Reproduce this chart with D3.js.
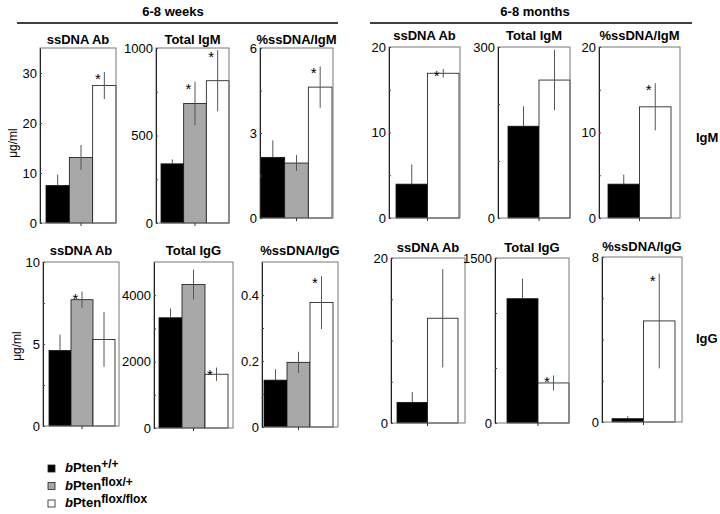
<!DOCTYPE html>
<html><head><meta charset="utf-8">
<script src="https://cdn.jsdelivr.net/npm/d3@7"></script>
<style>body{margin:0;background:#fff}svg{display:block;font-family:"Liberation Sans",Arial,sans-serif}</style>
</head><body><svg id="c" width="720" height="514"></svg>
<script>
// ---- data ----
const groups = ["bPten+/+", "bPten flox/+", "bPten flox/flox"];
const groupSup = ["+/+", "flox/+", "flox/flox"];
const panelTitles = ["ssDNA Ab","Total IgM","%ssDNA/IgM","ssDNA Ab","Total IgM","%ssDNA/IgM",
                     "ssDNA Ab","Total IgG","%ssDNA/IgG","ssDNA Ab","Total IgG","%ssDNA/IgG"];
const ageHeaders = ["6-8 weeks", "6-8 months"];
const isotypeLabels = ["IgM", "IgG"];
const unitLabel = "μg/ml";
// which genotype groups appear in each panel
const panelGroups = [[0,1,2],[0,1,2],[0,1,2],[0,2],[0,2],[0,2],[0,1,2],[0,1,2],[0,1,2],[0,2],[0,2],[0,2]];
// means
const wIgM_ssDNA = [7.5, 13.1, 27.5];
const wIgM_total = [338, 683, 813];
const wIgM_pct   = [2.14, 1.94, 4.62];
const mIgM_ssDNA = [3.96, 16.93];
const mIgM_total = [161, 242];
const mIgM_pct   = [3.96, 13.0];
const wIgG_ssDNA = [4.6, 7.7, 5.28];
const wIgG_total = [3320, 4320, 1620];
const wIgG_pct   = [0.142, 0.196, 0.377];
const mIgG_ssDNA = [2.5, 12.7];
const mIgG_total = [1130, 364];
const mIgG_pct   = [0.16, 4.9];
// errors
const wIgM_ssDNA_err = [2.2, 2.5, 2.7];
const wIgM_total_err = [25, 125, 175];
const wIgM_pct_err   = [0.6, 0.28, 0.73];
const mIgM_ssDNA_err = [2.3, 0.5];
const mIgM_total_err = [35, 53];
const mIgM_pct_err   = [1.1, 2.75];
const wIgG_ssDNA_err = [0.97, 0.5, 1.67];
const wIgG_total_err = [280, 450, 200];
const wIgG_pct_err   = [0.033, 0.032, 0.08];
const mIgG_ssDNA_err = [1.26, 5.95];
const mIgG_total_err = [182, 68];
const mIgG_pct_err   = [0.12, 2.3];
// significance stars (1 = *)
const wIgM_ssDNA_sig = [0,0,1], wIgM_total_sig = [0,1,1], wIgM_pct_sig = [0,0,1];
const mIgM_ssDNA_sig = [0,1], mIgM_total_sig = [0,0], mIgM_pct_sig = [0,1];
const wIgG_ssDNA_sig = [0,1,0], wIgG_total_sig = [0,0,1], wIgG_pct_sig = [0,0,1];
const mIgG_ssDNA_sig = [0,0], mIgG_total_sig = [0,1], mIgG_pct_sig = [0,1];
// axes
const axisMax = [35, 1000, 6, 20, 300, 20, 10, 5000, 0.5, 20, 1500, 8];
const majorTicks = [[0,10,20,30],[0,500,1000],[0,3,6],[0,10,20],[0,300],[0,10,20],
                    [0,5,10],[0,2000,4000],[0,0.2,0.4],[0,20],[0,1500],[0,8]];
const minorTicks = [[],[250,750],[1.5,4.5],[5,15],[100,200],[5,15],
                    [2.5,7.5],[1000,3000],[0.1,0.3],[5,10,15],[500,1000],[2,4,6]];

const means = [wIgM_ssDNA,wIgM_total,wIgM_pct,mIgM_ssDNA,mIgM_total,mIgM_pct,
               wIgG_ssDNA,wIgG_total,wIgG_pct,mIgG_ssDNA,mIgG_total,mIgG_pct];
const errs  = [wIgM_ssDNA_err,wIgM_total_err,wIgM_pct_err,mIgM_ssDNA_err,mIgM_total_err,mIgM_pct_err,
               wIgG_ssDNA_err,wIgG_total_err,wIgG_pct_err,mIgG_ssDNA_err,mIgG_total_err,mIgG_pct_err];
const sigs  = [wIgM_ssDNA_sig,wIgM_total_sig,wIgM_pct_sig,mIgM_ssDNA_sig,mIgM_total_sig,mIgM_pct_sig,
               wIgG_ssDNA_sig,wIgG_total_sig,wIgG_pct_sig,mIgG_ssDNA_sig,mIgG_total_sig,mIgG_pct_sig];

// ---- layout ----
const fills = ["#000000", "#a8a8a8", "#ffffff"];
const layout = [
  {x0:40,  x1:116, y0:48,  y1:223, pl:6,  pr:0, ty:44},
  {x0:156, x1:229, y0:48,  y1:223, pl:5,  pr:0, ty:44},
  {x0:260, x1:333, y0:48,  y1:218, pl:1,  pr:1, ty:44},
  {x0:389, x1:460, y0:47,  y1:218, pl:7,  pr:1, ty:40},
  {x0:498, x1:570, y0:47,  y1:218, pl:10, pr:0, ty:40},
  {x0:599, x1:680, y0:47,  y1:218, pl:9,  pr:9, ty:40},
  {x0:43,  x1:119, y0:262, y1:426, pl:6,  pr:4, ty:255},
  {x0:154, x1:233, y0:262, y1:428, pl:5,  pr:5, ty:255},
  {x0:262, x1:338, y0:262, y1:427, pl:2,  pr:5, ty:255},
  {x0:391, x1:465, y0:258, y1:423, pl:6,  pr:7, ty:252},
  {x0:495, x1:569, y0:258, y1:423, pl:12, pr:0, ty:252},
  {x0:602, x1:682, y0:257, y1:422, pl:10, pr:7, ty:251}
];

const svg = d3.select("#c");

// headers
const headers = [{x:173, y:16, x0:17, x1:338}, {x:535, y:16, x0:370, x1:692}];
headers.forEach((h, i) => {
  svg.append("text").attr("x", h.x).attr("y", h.y).attr("text-anchor","middle")
    .attr("font-size", 13).attr("font-weight","bold").text(ageHeaders[i]);
  svg.append("line").attr("x1", h.x0).attr("x2", h.x1).attr("y1", 23).attr("y2", 23)
    .attr("stroke","#000").attr("stroke-width",1.5);
});

layout.forEach((L, p) => {
  const g = svg.append("g");
  const y = d3.scaleLinear().domain([0, axisMax[p]]).range([L.y1, L.y0]);
  const x = d3.scaleBand().domain(panelGroups[p]).range([L.x0 + L.pl, L.x1 - L.pr]).padding(0);
  const data = panelGroups[p].map((gi, k) => ({gi, v: means[p][k], e: errs[p][k], s: sigs[p][k]}));

  // bars
  g.selectAll("rect.bar").data(data).join("rect").attr("class","bar")
    .attr("x", d => x(d.gi)).attr("width", x.bandwidth())
    .attr("y", d => y(d.v)).attr("height", d => y(0) - y(d.v))
    .attr("fill", d => fills[d.gi]).attr("stroke", "#111").attr("stroke-width", 0.8);

  // frame
  g.append("rect").attr("x", L.x0).attr("y", L.y0).attr("width", L.x1 - L.x0).attr("height", L.y1 - L.y0)
    .attr("fill","none").attr("stroke","#777").attr("stroke-width",1);

  // y axis
  const allT = majorTicks[p].concat(minorTicks[p]);
  const ax = d3.axisLeft(y).tickValues(allT)
    .tickFormat(d => majorTicks[p].includes(d) ? String(d) : "")
    .tickSizeInner(-2).tickSizeOuter(0).tickPadding(3);
  const ag = g.append("g").attr("transform", `translate(${L.x0},0)`).call(ax);
  ag.select(".domain").attr("stroke","#222");
  ag.selectAll(".tick line").attr("stroke","#444");
  ag.selectAll("text").attr("font-size", 13).attr("fill","#000")
    .attr("font-family", '"Liberation Sans",Arial,sans-serif');

  // bottom tick
  const xm = (x.range()[0] + x.range()[1]) / 2;
  g.append("line").attr("x1", xm).attr("x2", xm).attr("y1", L.y1).attr("y2", L.y1 + 3)
    .attr("stroke","#333");

  // error bars
  g.selectAll("line.err").data(data).join("line").attr("class","err")
    .attr("x1", d => x(d.gi) + x.bandwidth()/2).attr("x2", d => x(d.gi) + x.bandwidth()/2)
    .attr("y1", d => y(d.v + d.e)).attr("y2", d => d.gi === 0 ? y(d.v) : y(d.v - d.e))
    .attr("stroke", "#555").attr("stroke-width", 1);

  // stars
  g.selectAll("text.star").data(data.filter(d => d.s)).join("text").attr("class","star")
    .attr("x", d => x(d.gi) + x.bandwidth()/2 - 6.5).attr("y", d => y(d.v + d.e) + 12)
    .attr("text-anchor","middle").attr("font-size", 15).text("*");

  // title
  svg.append("text").attr("x", (L.x0 + L.x1)/2).attr("y", L.ty).attr("text-anchor","middle")
    .attr("font-size", 13).attr("font-weight","bold").text(panelTitles[p]);
});

// unit labels
[{x:17, y:143}, {x:21, y:346}].forEach(u => {
  svg.append("text").attr("transform", `translate(${u.x},${u.y}) rotate(-90)`)
    .attr("text-anchor","middle").attr("font-size", 12).text(unitLabel);
});
// isotype labels
[{x:696, y:142}, {x:696, y:343}].forEach((u, i) => {
  svg.append("text").attr("x", u.x).attr("y", u.y).attr("font-size", 13)
    .attr("font-weight","bold").text(isotypeLabels[i]);
});

// legend
const leg = svg.append("g");
groups.forEach((name, i) => {
  const yy = 472 + i * 17.5;
  leg.append("rect").attr("x", 48).attr("y", yy - 7).attr("width", 7).attr("height", 7)
    .attr("fill", fills[i]).attr("stroke", "#222").attr("stroke-width", 0.8);
  const t = leg.append("text").attr("x", 65).attr("y", yy).attr("font-size", 13).attr("font-weight","bold");
  t.append("tspan").attr("font-style","italic").text("b");
  t.append("tspan").text("Pten");
  t.append("tspan").attr("dy", -4).attr("font-size", 12).text(groupSup[i]);
});
</script></body></html>
